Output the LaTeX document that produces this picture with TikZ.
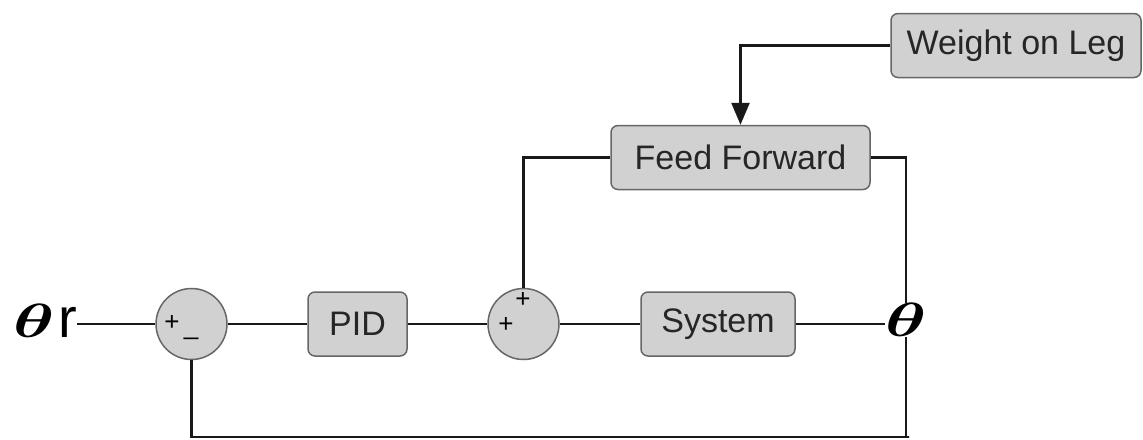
\RequirePackage{fix-cm}
\documentclass[tikz,border=0pt]{standalone}
\usepackage{amsmath}
\usepackage{graphicx}
\usepackage{fontspec}
\setmainfont{Liberation Sans}
\usetikzlibrary{arrows.meta}

\tikzstyle{block}=[draw=black!60, fill=black!18, rounded corners=7pt, line width=1.5pt, font=\fontsize{34}{34}\selectfont, text=black!85, minimum height=64pt, inner sep=0pt]
\tikzstyle{sum}=[circle, draw=black!60, fill=black!18, line width=1.5pt, minimum size=71pt, inner sep=0pt]
\tikzstyle{sign}=[font=\fontsize{26}{26}\selectfont, inner sep=0pt]
\tikzstyle{wire}=[line width=2.6pt, black!90]
\newcommand{\bigtheta}{\scalebox{1.45}[1]{$\boldsymbol{\theta}$}}

\begin{document}
\begin{tikzpicture}[x=1pt, y=-1pt]
\useasboundingbox (0,0) rectangle (1143,439);

\node[sum](s1) at (191.5,324) {};
\node[sum](s2) at (523.5,324) {};
\node[block,minimum width=99pt](pid) at (357.5,324) {PID};
\node[block,minimum width=154pt](sys) at (718,324) {System};
\node[block,minimum width=259pt](ff) at (740.5,157.5) {Feed Forward};
\node[block,minimum width=250pt](wl) at (1016,45.5) {Weight on Leg};

\node[inner sep=0pt, anchor=east, font=\fontsize{48}{48}\selectfont](ref) at (77,321) {\bigtheta\hspace{3pt}{\fontsize{56}{56}\selectfont r}};
\node[inner sep=0pt, font=\fontsize{48}{48}\selectfont](out) at (906,320) {\bigtheta};

\node[sign] at (172,323) {+};
\node[sign] at (191,337) {\_};
\node[sign] at (523,300) {+};
\node[sign] at (506,325) {+};

\coordinate (fb) at (909,437);

\begin{scope}[every path/.style={wire}]
       \draw (ref.east |- s1.west) -- (s1.west);
       \draw (s1.east) -- (pid.west);
       \draw (pid.east) -- (s2.west);
       \draw (s2.east) -- (sys.west);
       \draw (sys.east) -- (out.west |- sys.east);
       \draw (out.south) |- (fb) -| (s1.south);
       \draw (ff.east) -| (out.north);
       \draw (ff.west) -| (s2.north);
       \draw[-{Triangle[length=22pt,width=18pt]}] (wl.west) -| (ff.north);
\end{scope}
\end{tikzpicture}
\end{document}
